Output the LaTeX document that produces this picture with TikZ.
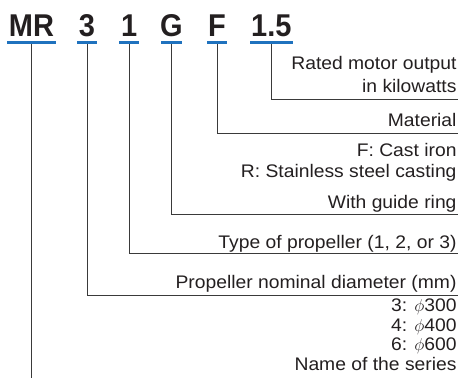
\documentclass[tikz,border=0pt]{standalone}
\usepackage{fontspec}
\setmainfont{Liberation Sans}
\newfontfamily\bodyfont[FakeStretch=1.06]{Liberation Sans}
\newfontfamily\headfont[FakeStretch=0.92]{Liberation Sans Bold}
\definecolor{ulblue}{HTML}{1F72BE}
\definecolor{linegray}{HTML}{3A3A3A}
\definecolor{textblack}{HTML}{231F20}
\tikzset{
  head/.style={anchor=base, inner sep=0pt, text=textblack, font=\headfont\fontsize{31.5}{31.5}\selectfont},
  uline/.style={fill=ulblue, inner sep=0pt, minimum height=2.7pt, draw=none},
  lbl/.style={anchor=base east, inner sep=0pt, text=textblack, font=\bodyfont\fontsize{18.2}{20}\selectfont},
  conn/.style={draw=linegray, line width=0.9pt}
}
\begin{document}
\begin{tikzpicture}[x=1pt, y=-1pt]
\useasboundingbox (0,0) rectangle (458,378);
% header letters
\node[head] (hMR) at (31.5,36) {MR};
\node[head] (h3) at (87,36) {3};
\node[head] (h1) at (129.2,36) {1};
\node[head] (hG) at (171.3,36) {G};
\node[head] (hF) at (217,36) {F};
\node[head] (h15) at (271.3,36) {1.5};
% blue underlines
\node[uline, minimum width=49.4pt] (uMR) at (31.5,42.7) {};
\node[uline, minimum width=20pt] (u3) at (87,42.7) {};
\node[uline, minimum width=20pt] (u1) at (129.2,42.7) {};
\node[uline, minimum width=21pt] (uG) at (171.3,42.7) {};
\node[uline, minimum width=20pt] (uF) at (217,42.7) {};
\node[uline, minimum width=42.7pt] (u15) at (271.3,42.7) {};
% end points of the connectors
\coordinate (e15) at (457.5,99.3);
\coordinate (eF) at (457.5,133.3);
\coordinate (eG) at (457.5,214.3);
\coordinate (e1) at (457.5,253.3);
\coordinate (e3) at (457.5,295);
\coordinate (eMR) at (31.5,378);
% connectors
\draw[conn] (u15.south) |- (e15);
\draw[conn] (uF.south) |- (eF);
\draw[conn] (uG.south) |- (eG);
\draw[conn] (u1.south) |- (e1);
\draw[conn] (u3.south) |- (e3);
\draw[conn] (uMR.south) -- (eMR);
% labels
\node[lbl] (t1) at (456.7,69.5) {Rated motor output};
\node[lbl] (t2) at (456.7,92.5) {in kilowatts};
\node[lbl] (t3) at (456.7,126) {Material};
\node[lbl] (t4) at (456.7,156.7) {F: Cast iron};
\node[lbl] (t5) at (456.7,177.3) {R: Stainless steel casting};
\node[lbl] (t6) at (456.7,208.3) {With guide ring};
\node[lbl] (t7) at (456.7,248) {Type of propeller (1, 2, or 3)};
\node[lbl] (t8) at (456.7,288.3) {Propeller nominal diameter (mm)};
\node[lbl] (t9) at (456.7,311.7) {3: $\phi$300};
\node[lbl] (t10) at (456.7,331.5) {4: $\phi$400};
\node[lbl] (t11) at (456.7,350.5) {6: $\phi$600};
\node[lbl] (t12) at (456.7,370) {Name of the series};
\end{tikzpicture}
\end{document}
